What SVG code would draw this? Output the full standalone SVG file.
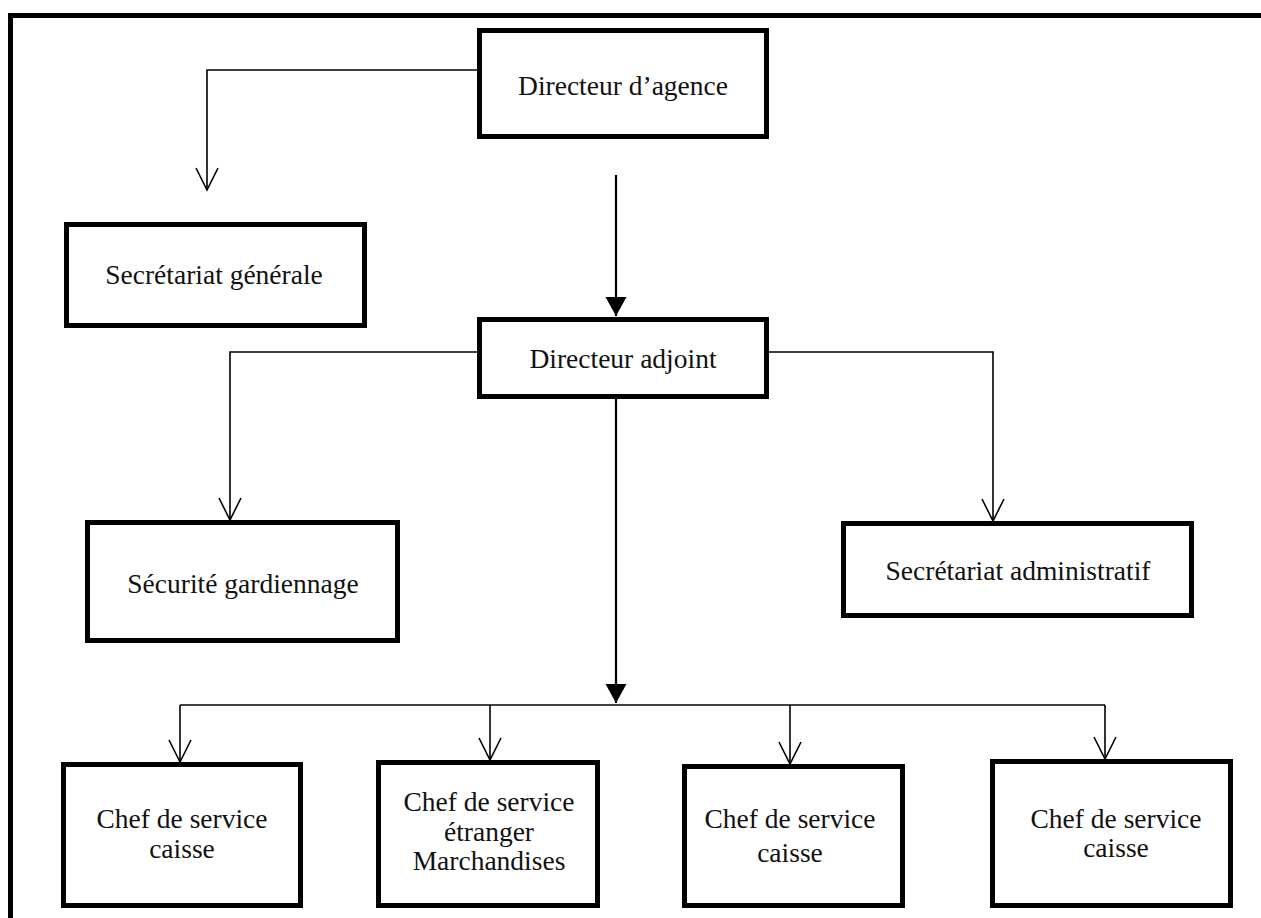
<svg xmlns="http://www.w3.org/2000/svg" width="1261" height="918" viewBox="0 0 1261 918">
<defs>
<style>
.box{fill:#fff;stroke:#000;stroke-width:5}
.lbl{font-family:"Liberation Serif","Times New Roman",serif;font-size:27.5px;fill:#111;text-anchor:middle}
.thin{fill:none;stroke:#000;stroke-width:1.6}
.main{fill:none;stroke:#000;stroke-width:2.2}
</style>
<marker id="open" markerUnits="userSpaceOnUse" markerWidth="26" markerHeight="26" refX="22" refY="11" orient="auto" overflow="visible">
<path d="M0,0 L22,11 L0,22" fill="none" stroke="#000" stroke-width="1.6"/>
</marker>
<marker id="solid" markerUnits="userSpaceOnUse" markerWidth="22" markerHeight="24" refX="19" refY="10.5" orient="auto" overflow="visible">
<path d="M0,0 L19,10.5 L0,21 Z" fill="#000"/>
</marker>
</defs>
<rect width="1261" height="918" fill="#fff"/>
<g id="frame">
<path d="M10.5,918 V15.5 H1261" fill="none" stroke="#000" stroke-width="5"/>
</g>
<g id="connectors">
<path class="thin" d="M477,70 H207 V190" marker-end="url(#open)"/>
<path class="main" d="M616,175 V316" marker-end="url(#solid)"/>
<path class="thin" d="M477,352 H230 V520" marker-end="url(#open)"/>
<path class="thin" d="M769,352 H993 V521" marker-end="url(#open)"/>
<path class="main" d="M616,399 V703" marker-end="url(#solid)"/>
<path class="thin" d="M180,705 H1105"/>
<path class="thin" d="M180,705 V762" marker-end="url(#open)"/>
<path class="thin" d="M490,705 V760" marker-end="url(#open)"/>
<path class="thin" d="M790,705 V764" marker-end="url(#open)"/>
<path class="thin" d="M1105,705 V759" marker-end="url(#open)"/>
</g>
<g id="n-directeur-agence">
<rect class="box" x="479.5" y="30.5" width="287" height="106"/>
<text class="lbl" x="623" y="95" font-family="Liberation Serif, serif">Directeur d’agence</text>
</g>
<g id="n-secretariat-generale">
<rect class="box" x="66.5" y="224.5" width="298" height="101"/>
<text class="lbl" x="214" y="284" font-family="Liberation Serif, serif">Secrétariat générale</text>
</g>
<g id="n-directeur-adjoint">
<rect class="box" x="479.5" y="319.5" width="287" height="77"/>
<text class="lbl" x="623" y="368" font-family="Liberation Serif, serif">Directeur adjoint</text>
</g>
<g id="n-securite">
<rect class="box" x="87.5" y="522.5" width="310" height="118"/>
<text class="lbl" x="243" y="593" font-family="Liberation Serif, serif">Sécurité gardiennage</text>
</g>
<g id="n-secretariat-admin">
<rect class="box" x="843.5" y="523.5" width="348" height="92"/>
<text class="lbl" x="1018" y="580" font-family="Liberation Serif, serif">Secrétariat administratif</text>
</g>
<g id="n-chef-caisse-1">
<rect class="box" x="63.5" y="764.5" width="237" height="141"/>
<text class="lbl" x="182" y="828" font-family="Liberation Serif, serif">Chef de service</text>
<text class="lbl" x="182" y="858" font-family="Liberation Serif, serif">caisse</text>
</g>
<g id="n-chef-etranger">
<rect class="box" x="378.5" y="762.5" width="219" height="143"/>
<text class="lbl" x="489" y="811" font-family="Liberation Serif, serif">Chef de service</text>
<text class="lbl" x="489" y="841" font-family="Liberation Serif, serif">étranger</text>
<text class="lbl" x="489" y="870" font-family="Liberation Serif, serif">Marchandises</text>
</g>
<g id="n-chef-caisse-2">
<rect class="box" x="684.5" y="766.5" width="218" height="139"/>
<text class="lbl" x="790" y="828" font-family="Liberation Serif, serif">Chef de service</text>
<text class="lbl" x="790" y="862" font-family="Liberation Serif, serif">caisse</text>
</g>
<g id="n-chef-caisse-3">
<rect class="box" x="992.5" y="761.5" width="238" height="144"/>
<text class="lbl" x="1116" y="828" font-family="Liberation Serif, serif">Chef de service</text>
<text class="lbl" x="1116" y="857" font-family="Liberation Serif, serif">caisse</text>
</g>
</svg>
